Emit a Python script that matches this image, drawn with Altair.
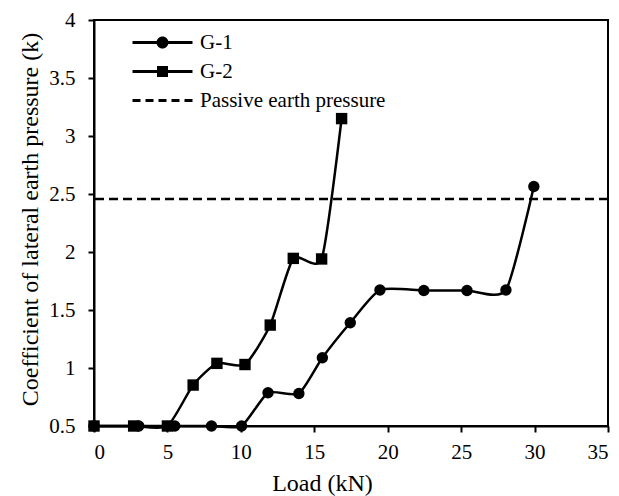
import altair as alt
import pandas as pd

# ---- data ----
g1_load = [0, 3.05, 5.5, 8.0, 10.05, 11.85, 13.95, 15.55, 17.45, 19.47, 22.46, 25.4, 28.05, 29.95]
g1_k = [0.5, 0.5, 0.5, 0.5, 0.5, 0.786, 0.78, 1.088, 1.39, 1.672, 1.668, 1.668, 1.672, 2.565]
g2_load = [0, 2.7, 5.0, 6.75, 8.37, 10.28, 12.0, 13.57, 15.5, 16.86]
g2_k = [0.5, 0.5, 0.5, 0.853, 1.04, 1.03, 1.37, 1.945, 1.94, 3.15]
passive_k = [2.457]

series_names = ["G-1", "G-2"]
legend_labels = ["G-1", "G-2", "Passive earth pressure"]
x_ticks = [0, 5, 10, 15, 20, 25, 30, 35]
y_ticks = [0.5, 1, 1.5, 2, 2.5, 3, 3.5, 4]

df = pd.DataFrame({
    "load": g1_load + g2_load,
    "k": g1_k + g2_k,
    "series": [series_names[0]] * len(g1_load) + [series_names[1]] * len(g2_load),
})
df_passive = pd.DataFrame({"k": passive_k})
df_legend = pd.DataFrame({"series": legend_labels})

FONT = "Liberation Serif"

axis_style = dict(
    labelFont=FONT, labelFontSize=21, labelColor="black",
    titleFont=FONT, titleFontSize=24, titleFontWeight="normal", titleColor="black",
    domainColor="black", domainWidth=2, tickColor="black", tickWidth=2, tickSize=6,
    grid=False, format="~g",
)

x_enc = alt.X("load:Q", scale=alt.Scale(domain=[0, 35], nice=False),
              axis=alt.Axis(values=x_ticks, title="Load (kN)", labelPadding=9,
                            titlePadding=9, titleX=228, **axis_style))
y_enc = alt.Y("k:Q", scale=alt.Scale(domain=[0.5, 4], nice=False),
              axis=alt.Axis(values=y_ticks, title="Coefficient of lateral earth pressure (k)",
                            labelPadding=13, titlePadding=6, titleY=199, **axis_style))

lines = alt.Chart(df).mark_line(
    interpolate="cardinal", tension=0.4, color="black", strokeWidth=2.5
).encode(x=x_enc, y=y_enc, detail="series:N")

points = alt.Chart(df).mark_point(
    filled=True, color="black", size=130, opacity=1
).encode(
    x=x_enc, y=y_enc,
    shape=alt.Shape("series:N",
                    scale=alt.Scale(domain=series_names, range=["circle", "square"]),
                    legend=None),
)

passive = alt.Chart(df_passive).mark_rule(
    color="black", strokeWidth=2.5, strokeDash=[9, 5]
).encode(y=alt.Y("k:Q"))

# legend glyphs (filled outlines only: line + marker, dashed line)
line_rect = "M-6,-0.3H6V0.3H-6Z"
circle_path = line_rect + "M1.2,0A1.2,1.2 0 1,1 -1.2,0A1.2,1.2 0 1,1 1.2,0Z"
square_path = line_rect + "M-1.1,-1.1H1.1V1.1H-1.1Z"
dash_path = ("M-6,-0.3H-4.4V0.3H-6Z"
             "M-3.4,-0.3H-1.8V0.3H-3.4Z"
             "M-0.8,-0.3H0.8V0.3H-0.8Z"
             "M1.8,-0.3H3.4V0.3H1.8Z"
             "M4.4,-0.3H6V0.3H4.4Z")

legend_layer = alt.Chart(df_legend).mark_point(
    filled=True, color="black", opacity=0
).encode(
    shape=alt.Shape("series:N",
                    scale=alt.Scale(domain=legend_labels, range=[circle_path, square_path, dash_path]),
                    legend=alt.Legend(
                        title=None, orient="none", legendX=58, legendY=12,
                        symbolSize=100, symbolOpacity=1,
                        symbolFillColor="black", symbolStrokeColor="black",
                        symbolStrokeWidth=0, labelOffset=27, labelLimit=0,
                        labelFont=FONT, labelFontSize=21, labelColor="black",
                        rowPadding=7, padding=0,
                    )),
)

chart = alt.layer(lines, points, passive, legend_layer).resolve_scale(
    shape="independent"
).properties(
    width=514, height=406,
    padding={"left": 94, "top": 20, "right": 11, "bottom": 70},
    autosize="none",
).configure(
    font=FONT,
).configure_view(
    stroke="black", strokeWidth=2
)

chart.save("out.html", embed_options={"renderer": "svg", "actions": False})
